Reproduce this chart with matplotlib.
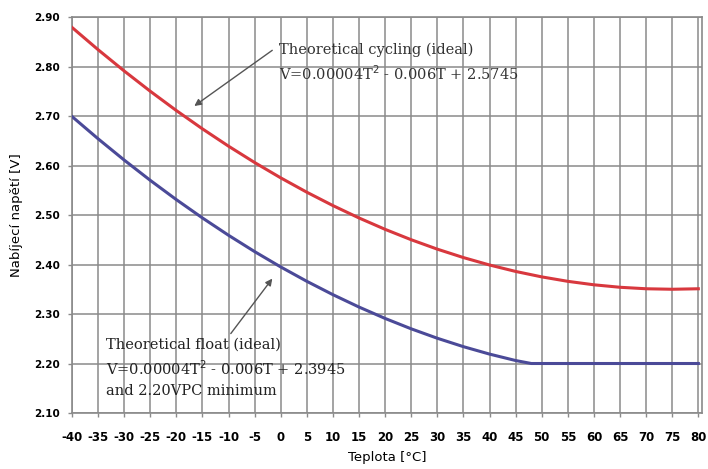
import numpy as np
import matplotlib
matplotlib.use("Agg")
import matplotlib.pyplot as plt

# data
temp = [-40, -35, -30, -25, -20, -15, -10, -5, 0, 5, 10, 15, 20, 25, 30,
        35, 40, 45, 50, 55, 60, 65, 70, 75, 80]
cycling = [2.879, 2.834, 2.791, 2.750, 2.711, 2.674, 2.639, 2.606, 2.575,
           2.546, 2.519, 2.494, 2.471, 2.450, 2.431, 2.414, 2.399, 2.386,
           2.375, 2.366, 2.359, 2.354, 2.351, 2.350, 2.351]
temp_float = [-40, -35, -30, -25, -20, -15, -10, -5, 0, 5, 10, 15, 20, 25,
              30, 35, 40, 45, 48, 50, 55, 60, 65, 70, 75, 80]
float_v = [2.699, 2.654, 2.611, 2.570, 2.531, 2.494, 2.459, 2.426, 2.395,
           2.366, 2.339, 2.314, 2.291, 2.270, 2.251, 2.234, 2.219, 2.206,
           2.200, 2.200, 2.200, 2.200, 2.200, 2.200, 2.200, 2.200]

x_ticks = list(range(-40, 81, 5))
x_labels = [str(t) for t in x_ticks]  # plain hyphen like the original
y_ticks = [2.10, 2.20, 2.30, 2.40, 2.50, 2.60, 2.70, 2.80, 2.90]

fig = plt.figure(figsize=(7.08, 4.69), dpi=100)
ax = fig.add_axes([0.1017, 0.1194, 0.8898, 0.8443])

ax.plot(temp, cycling, color="#d8383e", linewidth=2.2, zorder=3)
ax.plot(temp_float, float_v, color="#4b4a98", linewidth=2.2, zorder=3)

ax.set_xlim(-40, 80.7)
ax.set_ylim(2.10, 2.90)
ax.set_xticks(x_ticks)
ax.set_xticklabels(x_labels)
ax.set_yticks(y_ticks)
ax.set_yticklabels([f"{v:.2f}" for v in y_ticks])
ax.grid(True, color="#8a8a8a", linewidth=1.1)
ax.set_axisbelow(True)
for s in ax.spines.values():
    s.set_color("#8a8a8a")
    s.set_linewidth(1.2)
ax.tick_params(axis="both", color="#8a8a8a", length=3, width=1)
ax.tick_params(axis="y", labelsize=7.5, pad=6)
ax.tick_params(axis="x", labelsize=8.5, pad=10)
for lab in ax.get_xticklabels() + ax.get_yticklabels():
    lab.set_fontweight("bold")
    lab.set_family("DejaVu Sans")

ax.set_xlabel("Teplota [°C]", fontsize=9.5, labelpad=5)
ax.set_ylabel("Nabíjecí napětí [V]", fontsize=9.5, labelpad=8)

# annotations (serif text, like the original)
serif = "DejaVu Serif"
ax.annotate("", xy=(-17.0, 2.717), xytext=(-1.2, 2.836),
            arrowprops=dict(arrowstyle="-|>", color="#555555", lw=1.0,
                            mutation_scale=10))
ax.text(-0.3, 2.834, "Theoretical cycling (ideal)", family=serif,
        fontsize=10.5, va="center", ha="left", color="#333333")
ax.text(-0.3, 2.786, "V=0.00004T$^2$ - 0.006T + 2.5745", family=serif,
        fontsize=10.5, va="center", ha="left", color="#333333")

ax.annotate("", xy=(-1.3, 2.376), xytext=(-9.9, 2.256),
            arrowprops=dict(arrowstyle="-|>", color="#555555", lw=1.0,
                            mutation_scale=10))
ax.text(-33.4, 2.238, "Theoretical float (ideal)", family=serif,
        fontsize=10.5, va="center", ha="left", color="#222222")
ax.text(-33.4, 2.190, "V=0.00004T$^2$ - 0.006T + 2.3945", family=serif,
        fontsize=10.5, va="center", ha="left", color="#222222")
ax.text(-33.4, 2.145, "and 2.20VPC minimum", family=serif,
        fontsize=10.5, va="center", ha="left", color="#222222")

fig.savefig("out.png", dpi=100)
